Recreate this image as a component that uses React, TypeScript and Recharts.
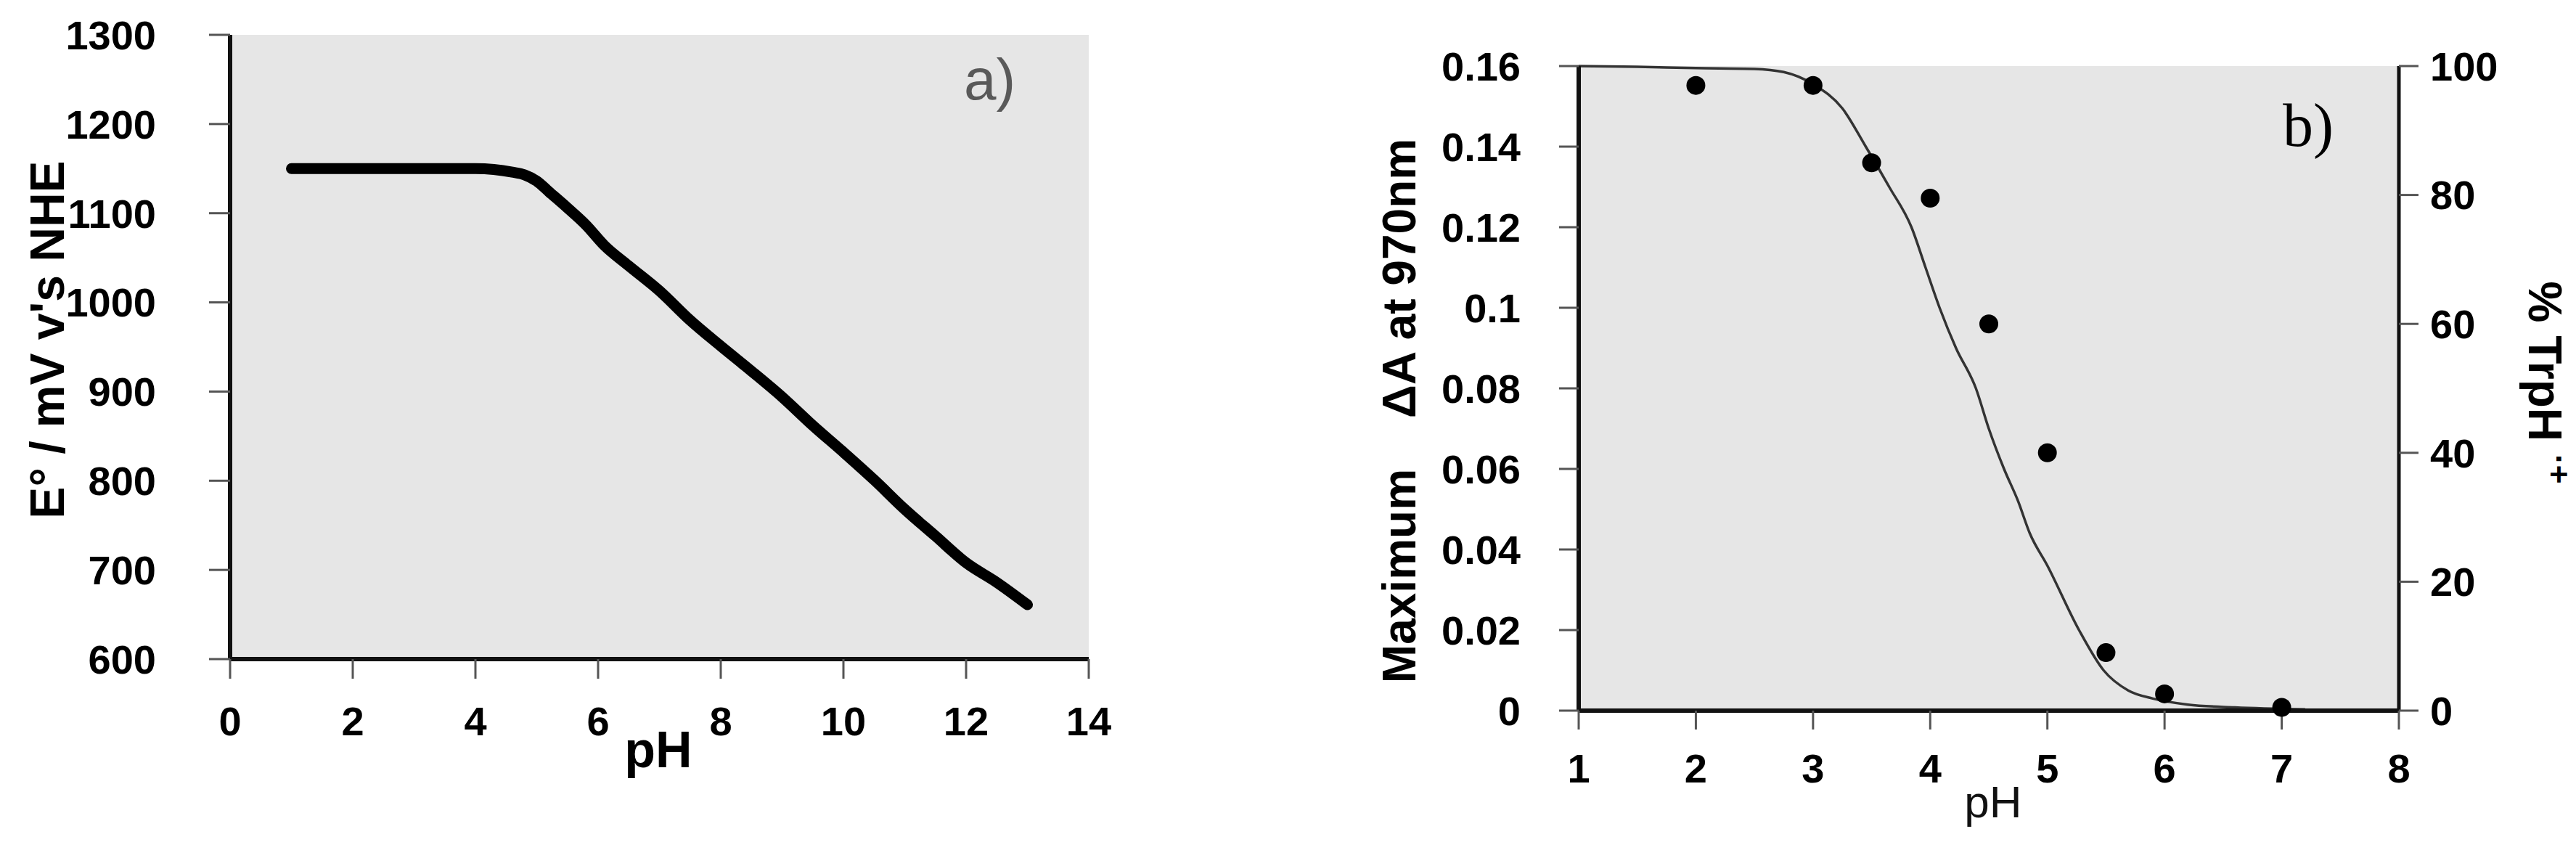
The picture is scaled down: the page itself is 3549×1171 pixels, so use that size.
import React from 'react';
import {
  ComposedChart,
  LineChart,
  Line,
  Scatter,
  XAxis,
  YAxis,
  CartesianGrid,
  Label,
} from 'recharts';

// panel a) : E° vs pH
const phA = [1, 2, 3, 4, 4.3, 4.6, 4.8, 5.0, 5.2, 5.5, 5.8, 6.1, 6.5, 7.0, 7.5, 8.0, 8.5, 9.0, 9.5, 10.0, 10.5, 11.0, 11.5, 12.0, 12.5, 13.0];
const potentialA = [1150, 1150, 1150, 1150, 1149, 1146, 1143, 1136, 1124, 1106, 1087, 1064, 1041, 1013, 980, 951, 923, 894, 862, 832, 801, 768, 738, 708, 686, 661];
const phTicksA = [0, 2, 4, 6, 8, 10, 12, 14];
const eTicksA = [600, 700, 800, 900, 1000, 1100, 1200, 1300];

// panel b) : measured % TrpH•+ and fitted ΔA curve
const phPointsB = [2, 3, 3.5, 4, 4.5, 5, 5.5, 6, 7];
const pctPointsB = [97, 97, 85, 79.5, 60, 40, 9, 2.6, 0.5];
const phFitB = [1.0, 1.5, 2.0, 2.5, 2.75, 3.0, 3.25, 3.45, 3.65, 3.84, 3.96, 4.08, 4.22, 4.39, 4.5, 4.63, 4.75, 4.85, 5.0, 5.27, 5.48, 5.69, 5.9, 6.2, 6.6, 7.2];
const fitB = [0.16, 0.1598, 0.1595, 0.1593, 0.1585, 0.1555, 0.1495, 0.14, 0.13, 0.12, 0.11, 0.1, 0.09, 0.08, 0.07, 0.06, 0.052, 0.044, 0.036, 0.02, 0.01, 0.005, 0.003, 0.0015, 0.0008, 0.0003];
const phTicksB = [1, 2, 3, 4, 5, 6, 7, 8];
const dATicksB = [0, 0.02, 0.04, 0.06, 0.08, 0.1, 0.12, 0.14, 0.16];
const pctTicksB = [0, 20, 40, 60, 80, 100];

const FONT = '"Liberation Sans", Arial, sans-serif';
const tickText = { fill: '#000', fontSize: 56, fontWeight: 700, fontFamily: FONT };
const mainLine = { stroke: '#111', strokeWidth: 6 };
const frameLine = { stroke: '#111', strokeWidth: 5 };
const tickMark = { stroke: '#555', strokeWidth: 3 };

function PanelA() {
  const data = phA.map((ph, i) => ({ ph, e: potentialA[i] }));
  return (
    <LineChart width={1600} height={1171} data={data} margin={{ top: 48, right: 100, bottom: 0, left: 0 }}>
      <CartesianGrid fill="#e6e6e6" stroke="none" horizontal={false} vertical={false} />
      <XAxis
        dataKey="ph" type="number" domain={[0, 14]} ticks={phTicksA} interval={0}
        height={263} axisLine={mainLine} tickLine={tickMark} tickSize={27} tickMargin={38} tick={tickText}
      >
        <Label content={() => (
          <text x={907} y={1057} textAnchor="middle" fontSize={70} fontWeight={700} fontFamily={FONT} fill="#000">pH</text>
        )} />
      </XAxis>
      <XAxis xAxisId="top" orientation="top" type="number" domain={[0, 14]} height={0} tick={false} tickLine={false} axisLine={frameLine} />
      <YAxis
        type="number" domain={[600, 1300]} ticks={eTicksA} interval={0}
        width={317} axisLine={mainLine} tickLine={tickMark} tickSize={29} tickMargin={73} tick={tickText}
      >
        <Label content={() => (
          <text x={65} y={468} transform="rotate(-90 65 468)" textAnchor="middle" dominantBaseline="central"
            fontSize={66} fontWeight={700} fontFamily={FONT} fill="#000">E° / mV v's NHE</text>
        )} />
      </YAxis>
      <YAxis yAxisId="right" orientation="right" type="number" domain={[600, 1300]} width={0} tick={false} tickLine={false} axisLine={frameLine} />
      <Line
        dataKey="e" type="monotone" stroke="#000" strokeWidth={15} strokeLinecap="round"
        dot={false} activeDot={false} isAnimationActive={false}
      />
    </LineChart>
  );
}

function PanelB() {
  const points = phPointsB.map((x, i) => ({ x, y: pctPointsB[i] }));
  const fit = phFitB.map((x, i) => ({ x, y: fitB[i] }));
  return (
    <ComposedChart width={1849} height={1171} margin={{ top: 91, right: 0, bottom: 0, left: 0 }}>
      <CartesianGrid fill="#e6e6e6" stroke="none" horizontal={false} vertical={false} />
      <XAxis
        dataKey="x" type="number" domain={[1, 8]} ticks={phTicksB} interval={0}
        height={192} axisLine={mainLine} tickLine={tickMark} tickSize={26} tickMargin={33} tick={tickText}
      >
        <Label content={() => (
          <text x={1046} y={1126} textAnchor="middle" fontSize={62} fontFamily={FONT} fill="#111">pH</text>
        )} />
      </XAxis>
      <XAxis xAxisId="top" orientation="top" type="number" domain={[1, 8]} height={0} tick={false} tickLine={false} axisLine={frameLine} />
      <YAxis
        dataKey="y" type="number" domain={[0, 0.16]} ticks={dATicksB} interval={0}
        tickFormatter={(v: number) => (v === 0 ? '0' : String(Number(v.toFixed(2))))}
        width={475} axisLine={mainLine} tickLine={tickMark} tickSize={27} tickMargin={53} tick={tickText}
      >
        <Label content={() => (
          <text x={228} y={566} transform="rotate(-90 228 566)" textAnchor="middle" dominantBaseline="central"
            fontSize={64} fontWeight={700} fontFamily={FONT} fill="#000">
            Maximum<tspan dx={70}>ΔA at 970nm</tspan>
          </text>
        )} />
      </YAxis>
      <YAxis
        yAxisId="right" dataKey="y" orientation="right" type="number" domain={[0, 100]} ticks={pctTicksB} interval={0}
        width={244} axisLine={frameLine} tickLine={tickMark} tickSize={27} tickMargin={16} tick={tickText}
      >
        <Label content={() => (
          <text x={1806} y={527} transform="rotate(90 1806 527)" textAnchor="middle" dominantBaseline="central"
            fontSize={64} fontWeight={700} fontFamily={FONT} fill="#000">
            % TrpH<tspan dx={18} dy={-20} fontSize={44}>·+</tspan>
          </text>
        )} />
      </YAxis>
      <Line
        data={fit} dataKey="y" type="monotone" stroke="#333" strokeWidth={3.5}
        dot={false} activeDot={false} isAnimationActive={false}
      />
      <Scatter
        yAxisId="right" data={points} dataKey="y" isAnimationActive={false}
        shape={(p: any) => <circle cx={p.cx} cy={p.cy} r={13} fill="#000" />}
      />
    </ComposedChart>
  );
}

export default function App() {
  return (
    <div style={{ position: 'absolute', left: 0, top: 0, width: 3549, height: 1171, background: '#fff' }}>
      <div style={{ position: 'absolute', left: 0, top: 0 }}>
        <PanelA />
      </div>
      <div style={{ position: 'absolute', left: 1700, top: 0 }}>
        <PanelB />
      </div>
      {/* panel letters */}
      <div style={{ position: 'absolute', left: 1328, top: 70, fontFamily: FONT, fontSize: 80, color: '#595959', lineHeight: 1 }}>a)</div>
      <div style={{ position: 'absolute', left: 3145, top: 131, fontFamily: '"Liberation Serif", "Times New Roman", serif', fontSize: 84, color: '#000', lineHeight: 1 }}>b)</div>
    </div>
  );
}
